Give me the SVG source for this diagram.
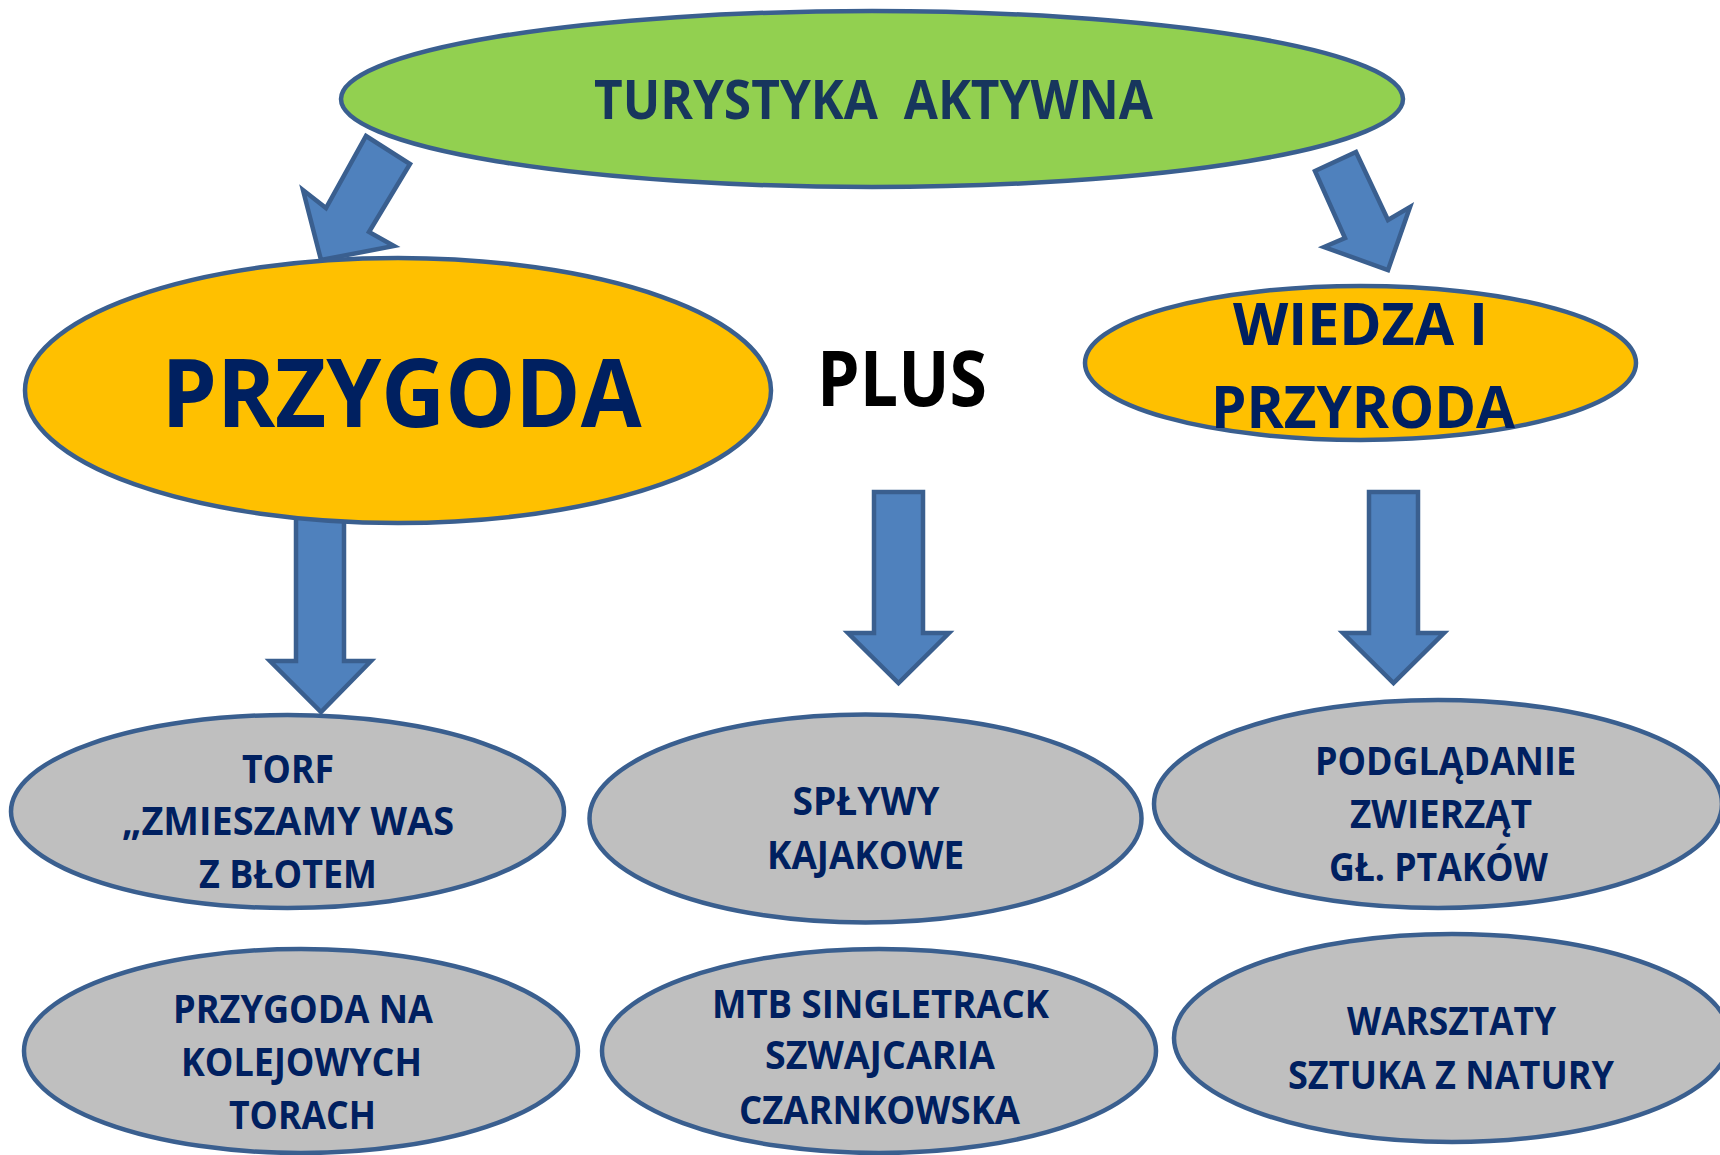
<svg xmlns="http://www.w3.org/2000/svg" width="1720" height="1155" viewBox="0 0 1720 1155">
<style>
.arrow{fill:#4f81bd;stroke:#3a5f8f;stroke-width:4.5;stroke-linejoin:miter}
.node ellipse{stroke:#3a5f8f;stroke-width:4.5}
.green{fill:#92d050}
.yellow{fill:#ffc000}
.gray{fill:#bfbfbf}
text{font-family:"Open Sans","Liberation Sans",sans-serif;font-weight:bold;text-anchor:middle}
.t{fill:#002060;font-size:39px}
</style>
<rect width="1720" height="1155" fill="#ffffff"/>
<g id="connectors">
<polygon class="arrow" points="366,136 410,164 369,232 394,246 321,260 303,190 326,208"/>
<polygon class="arrow" points="1315,171 1356,152 1388,220 1410,207 1388,270 1324,247 1345,238"/>
<polygon class="arrow" points="296,500 344,500 344,661 371,661 321,712 270,661 296,661"/>
<polygon class="arrow" points="874,492 923,492 923,633 949,633 898.5,683 848,633 874,633"/>
<polygon class="arrow" points="1369,492 1418,492 1418,633 1444,633 1393.5,683 1343,633 1369,633"/>
</g>
<g id="turystyka" class="node">
<ellipse class="green" cx="872" cy="99" rx="531" ry="88"/>
<text x="873.5" y="119" font-size="53" fill="#17365d" textLength="559" lengthAdjust="spacingAndGlyphs" xml:space="preserve">TURYSTYKA  AKTYWNA</text>
</g>
<g id="przygoda" class="node">
<ellipse class="yellow" cx="398" cy="390.5" rx="373" ry="132.5"/>
<text x="401.5" y="427" font-size="95" fill="#002060" textLength="480" lengthAdjust="spacingAndGlyphs">PRZYGODA</text>
</g>
<g id="plus">
<text x="902" y="406" font-size="77" fill="#000000" textLength="170" lengthAdjust="spacingAndGlyphs">PLUS</text>
</g>
<g id="wiedza" class="node">
<ellipse class="yellow" cx="1360.5" cy="363" rx="275.5" ry="77"/>
<text x="1360.5" y="345" font-size="59" fill="#002060" textLength="255" lengthAdjust="spacingAndGlyphs">WIEDZA I</text>
<text x="1363" y="428" font-size="59" fill="#002060" textLength="304" lengthAdjust="spacingAndGlyphs">PRZYRODA</text>
</g>
<g id="torf" class="node">
<ellipse class="gray" cx="287.5" cy="811.5" rx="276.5" ry="96.5"/>
<text class="t" x="288" y="783" textLength="92" lengthAdjust="spacingAndGlyphs">TORF</text>
<text class="t" x="288" y="835" textLength="332" lengthAdjust="spacingAndGlyphs">„ZMIESZAMY WAS</text>
<text class="t" x="288" y="888" textLength="178" lengthAdjust="spacingAndGlyphs">Z BŁOTEM</text>
</g>
<g id="tory" class="node">
<ellipse class="gray" cx="301" cy="1051" rx="277" ry="102"/>
<text class="t" x="303" y="1023" textLength="260" lengthAdjust="spacingAndGlyphs">PRZYGODA NA</text>
<text class="t" x="301.5" y="1076" textLength="241" lengthAdjust="spacingAndGlyphs">KOLEJOWYCH</text>
<text class="t" x="302.5" y="1129" textLength="147" lengthAdjust="spacingAndGlyphs">TORACH</text>
</g>
<g id="splywy" class="node">
<ellipse class="gray" cx="865.5" cy="818.5" rx="276" ry="104"/>
<text class="t" x="866" y="815" textLength="147" lengthAdjust="spacingAndGlyphs">SPŁYWY</text>
<text class="t" x="865.5" y="869" textLength="197" lengthAdjust="spacingAndGlyphs">KAJAKOWE</text>
</g>
<g id="mtb" class="node">
<ellipse class="gray" cx="879" cy="1051" rx="277" ry="102"/>
<text class="t" x="880.5" y="1018" textLength="337" lengthAdjust="spacingAndGlyphs">MTB SINGLETRACK</text>
<text class="t" x="880" y="1069" textLength="230" lengthAdjust="spacingAndGlyphs">SZWAJCARIA</text>
<text class="t" x="879.5" y="1124" textLength="281" lengthAdjust="spacingAndGlyphs">CZARNKOWSKA</text>
</g>
<g id="podgladanie" class="node">
<ellipse class="gray" cx="1438" cy="804" rx="284" ry="104"/>
<text class="t" x="1445.5" y="775" textLength="261" lengthAdjust="spacingAndGlyphs">PODGLĄDANIE</text>
<text class="t" x="1441" y="828" textLength="182" lengthAdjust="spacingAndGlyphs">ZWIERZĄT</text>
<text class="t" x="1438.5" y="881" textLength="219" lengthAdjust="spacingAndGlyphs">GŁ. PTAKÓW</text>
</g>
<g id="warsztaty" class="node">
<ellipse class="gray" cx="1452" cy="1038" rx="278" ry="104"/>
<text class="t" x="1451.5" y="1035" textLength="209" lengthAdjust="spacingAndGlyphs">WARSZTATY</text>
<text class="t" x="1451" y="1089" textLength="326" lengthAdjust="spacingAndGlyphs">SZTUKA Z NATURY</text>
</g>
</svg>
